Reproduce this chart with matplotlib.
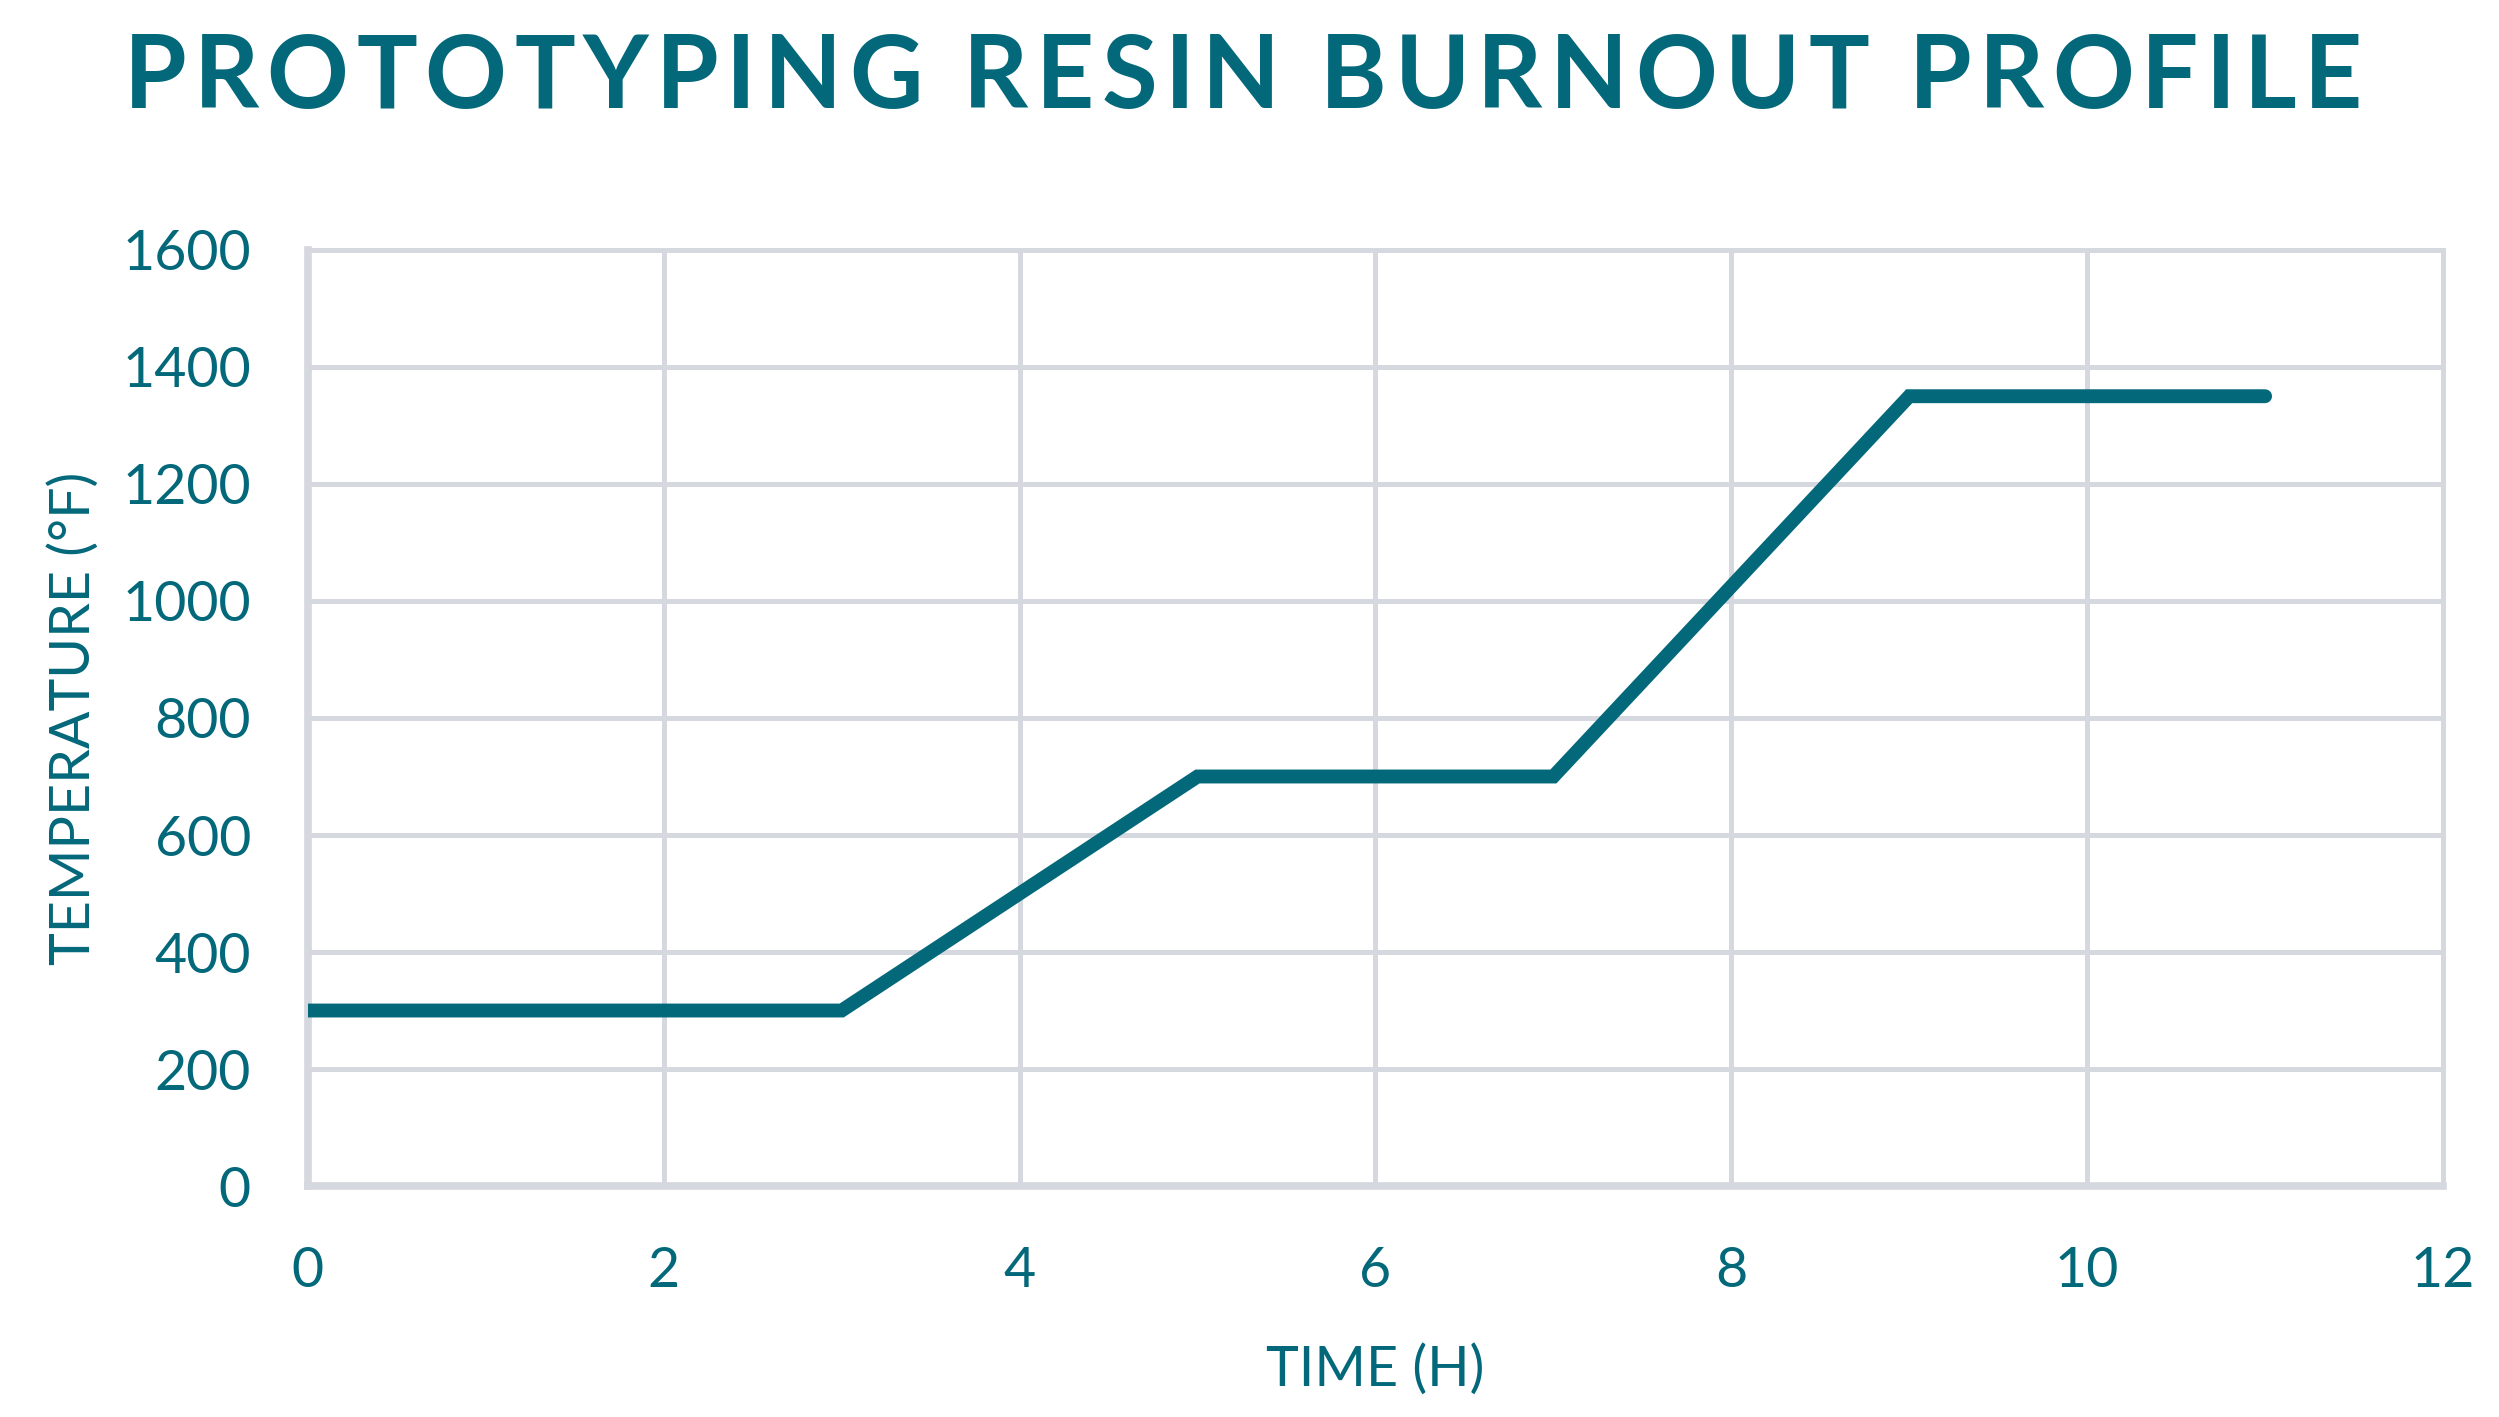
import matplotlib
matplotlib.use("Agg")
import matplotlib.pyplot as plt

# Daten
time_h = [0, 3, 5, 7, 9, 11]
temp_f = [300, 300, 700, 700, 1350, 1350]
x_ticks = [0, 2, 4, 6, 8, 10, 12]
y_ticks = [0, 200, 400, 600, 800, 1000, 1200, 1400, 1600]
title = "PROTOTYPING RESIN BURNOUT PROFILE"

teal = "#03687A"
grid_col = "#D5D8DF"

plt.rcParams['font.family'] = ['Lato', 'DejaVu Sans']

fig = plt.figure(figsize=(24.99, 14.17), dpi=100)
ax = fig.add_axes([0.1232, 0.163, 0.8544, 0.6606])

ax.plot(time_h, temp_f, color=teal, linewidth=10, solid_capstyle='round',
        solid_joinstyle='miter', zorder=3)

ax.set_xlim(0, 12)
ax.set_ylim(0, 1600)
ax.set_xticks(x_ticks)
ax.set_yticks(y_ticks)
ax.grid(True, color=grid_col, linewidth=3.6, zorder=0)
ax.set_axisbelow(True)

for side in ['top', 'right']:
    ax.spines[side].set_color(grid_col)
    ax.spines[side].set_linewidth(3.6)
for side in ['left', 'bottom']:
    ax.spines[side].set_color(grid_col)
    ax.spines[side].set_linewidth(5.5)

ax.tick_params(axis='both', length=0, labelsize=40, labelcolor=teal)
ax.tick_params(axis='x', pad=43)
ax.tick_params(axis='y', pad=41)

ax.set_xlabel("TIME (H)", fontsize=40, color=teal, labelpad=34)
ax.set_ylabel("TEMPERATURE (°F)", fontsize=40, color=teal, labelpad=16)

# Titel mit Sperrung: Buchstaben einzeln setzen
renderer = fig.canvas.get_renderer()
title_kw = dict(fontsize=73, fontweight='bold', color=teal)
def text_width(s):
    t = fig.text(0, 0, s, **title_kw)
    w = t.get_window_extent(renderer).width
    t.remove()
    return w

fig_w = fig.bbox.width
extra = 7.6  # zusaetzlicher Abstand pro Zeichen in Pixel
total = text_width(title) + extra * (len(title) - 1)
x0 = (fig_w - total) / 2 + 0.5 * (fig_w * 0.0)
x0 = 124 + (2238 - total) / 2
for i, ch in enumerate(title):
    if ch == " ":
        continue
    right = x0 + text_width(title[:i + 1]) + i * extra
    fig.text(right / fig_w, 0.9238, ch, ha='right', va='baseline', **title_kw)

fig.savefig("out.png", dpi=100, facecolor='white')
